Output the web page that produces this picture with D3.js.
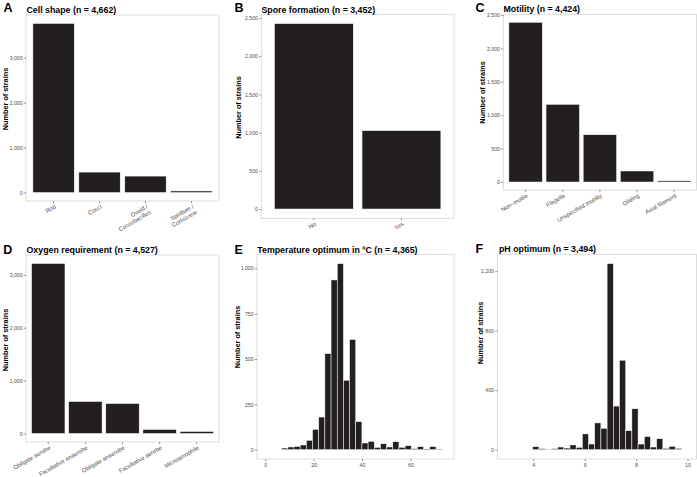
<!DOCTYPE html>
<html><head><meta charset="utf-8">
<script src="https://cdn.jsdelivr.net/npm/d3@7"></script>
<style>
body{margin:0;background:#fff}
svg{display:block}
text{font-family:"Liberation Sans",Arial,Helvetica,sans-serif}
</style>
</head><body>
<svg id="chart" width="697" height="477"></svg>
<script>
// ---------- DATA ----------
const cellShapeCats = ["Rod", "Cocci", "Ovoid /\nCoccobacillus", "Spirillum /\nCorkscrew"];
const cellShapeVals = [3760, 455, 366, 35];
const cellShapeTicks = [0, 1000, 2000, 3000];

const sporeCats = ["No", "Yes"];
const sporeVals = [2428, 1027];
const sporeTicks = [0, 500, 1000, 1500, 2000, 2500];

const motilityCats = ["Non\u2013motile", "Flagella", "Unspecified motility", "Gliding", "Axial filament"];
const motilityVals = [2391, 1163, 708, 165, 18];
const motilityTicks = [0, 500, 1000, 1500, 2000, 2500];

const oxygenCats = ["Obligate aerobe", "Facultative anaerobe", "Obligate anaerobe", "Facultative aerobe", "Microaerophile"];
const oxygenVals = [3214, 605, 567, 76, 38];
const oxygenTicks = [0, 1000, 2000, 3000];

const tempBinStarts = [6.8, 9.35, 11.9, 14.45, 17.0, 19.55, 22.1, 24.65, 27.2, 29.75, 32.3, 34.85, 37.4,
  39.95, 42.5, 45.05, 47.6, 50.15, 52.7, 55.25, 57.8, 60.35, 62.9, 65.45, 68.0, 70.55];
const tempBinWidth = 2.55;
const tempCounts = [9, 15, 18, 26, 52, 112, 180, 530, 936, 1026, 383, 608, 155,
  37, 46, 13, 33, 15, 44, 13, 22, 6, 17, 4, 17, 3];
const tempYTicks = [0, 250, 500, 750, 1000];
const tempXTicks = [0, 20, 40, 60];
const tempXDomain = [-3.4, 78];

const phBinStarts = [3.98, 4.221, 4.462, 4.703, 4.944, 5.185, 5.426, 5.667, 5.908, 6.149, 6.39, 6.631,
  6.872, 7.113, 7.354, 7.595, 7.836, 8.077, 8.318, 8.559, 8.8, 9.041, 9.282, 9.523];
const phBinWidth = 0.241;
const phCounts = [20, 7, 2, 7, 18, 11, 32, 16, 106, 38, 180, 144,
  1250, 293, 601, 128, 275, 38, 88, 18, 74, 9, 23, 9];
const phYTicks = [0, 400, 800, 1200];
const phXTicks = [4, 6, 8, 10];
const phXDomain = [2.6, 10.35];

const panelLetters = ["A", "B", "C", "D", "E", "F"];
const panelTitles = ["Cell shape (n = 4,662)", "Spore formation (n = 3,452)", "Motility (n = 4,424)",
  "Oxygen requirement (n = 4,527)", "Temperature optimum in \u00baC (n = 4,365)", "pH optimum (n = 3,494)"];
const yAxisTitle = "Number of strains";

// ---------- LAYOUT ----------
const layouts = [
  {x0: 26, x1: 219, y0: 15, y1: 201, lx: 3.5, ly: 11.8, tx: 26.5, ty: 12.5, ytx: 5, yty: 99},
  {x0: 261.3, x1: 454, y0: 14.3, y1: 218.3, lx: 234.5, ly: 12.3, tx: 261.5, ty: 12.5, ytx: 238.7, yty: 107.5},
  {x0: 503.3, x1: 696.5, y0: 14.3, y1: 190, lx: 475.5, ly: 12.3, tx: 503.5, ty: 12.3, ytx: 482.3, yty: 92.5},
  {x0: 26, x1: 219, y0: 255, y1: 442, lx: 3.3, ly: 253.8, tx: 26.5, ty: 253, ytx: 5, yty: 340},
  {x0: 257, x1: 454, y0: 254.3, y1: 459, lx: 234.5, ly: 253.8, tx: 257.3, ty: 252.5, ytx: 237.3, yty: 337},
  {x0: 497.3, x1: 696.5, y0: 254.3, y1: 459, lx: 475.5, ly: 252.8, tx: 499, ty: 252, ytx: 480.5, yty: 333}
];

const barFill = "#231f20";
const svg = d3.select("#chart");

function decorate(i) {
  const L = layouts[i];
  svg.append("rect").attr("x", L.x0).attr("y", L.y0)
    .attr("width", L.x1 - L.x0).attr("height", L.y1 - L.y0)
    .attr("fill", "#fff").attr("stroke", "#d4d4d4").attr("stroke-width", 0.8);
  svg.append("text").attr("x", L.lx).attr("y", L.ly).attr("font-size", 12.5)
    .attr("font-weight", "bold").attr("fill", "#000").text(panelLetters[i]);
  svg.append("text").attr("x", L.tx).attr("y", L.ty).attr("font-size", 8.8)
    .attr("font-weight", "bold").attr("fill", "#000").text(panelTitles[i]);
  svg.append("text").attr("transform", `translate(${L.ytx},${L.yty}) rotate(-90)`)
    .attr("dy", "0.35em").attr("text-anchor", "middle").attr("font-size", 7.3)
    .attr("font-weight", "bold").attr("fill", "#000").text(yAxisTitle);
}

function yAxis(i, y, ticks) {
  const L = layouts[i];
  const g = svg.append("g").attr("transform", `translate(${L.x0},0)`)
    .call(d3.axisLeft(y).tickValues(ticks).tickFormat(d3.format(",")).tickSize(2.2).tickPadding(1.2));
  g.select(".domain").remove();
  g.selectAll(".tick line").attr("stroke", "#333").attr("stroke-width", 0.5);
  g.selectAll(".tick text").attr("font-size", 5.2).attr("fill", "#4d4d4d")
    .attr("font-family", "Liberation Sans, Arial, sans-serif");
}

function barPanel(i, cats, vals, ticks) {
  const L = layouts[i];
  decorate(i);
  const M = d3.max(vals);
  const y = d3.scaleLinear().domain([-0.05 * M, 1.05 * M]).range([L.y1, L.y0]);
  const x = d3.scaleBand().domain(cats).range([L.x0, L.x1]).paddingInner(0.1).paddingOuter(0.15);
  yAxis(i, y, ticks);
  svg.append("g").selectAll("rect").data(cats).join("rect")
    .attr("x", d => x(d)).attr("width", x.bandwidth())
    .attr("y", (d, k) => y(vals[k])).attr("height", (d, k) => y(0) - y(vals[k]))
    .attr("fill", barFill).attr("stroke", "#fff").attr("stroke-width", 0.5);
  const g = svg.append("g");
  cats.forEach(c => {
    const cx = x(c) + x.bandwidth() / 2;
    g.append("line").attr("x1", cx).attr("x2", cx).attr("y1", L.y1).attr("y2", L.y1 + 2.2)
      .attr("stroke", "#333").attr("stroke-width", 0.5);
    const t = g.append("text").attr("transform", `translate(${cx + 0.5},${L.y1 + 3}) rotate(-30)`)
      .attr("text-anchor", "end").attr("font-size", 5.9).attr("fill", "#4d4d4d");
    c.split("\n").forEach((ln, k) => {
      t.append("tspan").attr("x", 0).attr("dy", k === 0 ? "0.75em" : "1.1em").text(ln);
    });
  });
}

function histPanel(i, starts, width, counts, yTicks, xTicks, xDomain) {
  const L = layouts[i];
  decorate(i);
  const M = d3.max(counts);
  const y = d3.scaleLinear().domain([-0.05 * M, 1.05 * M]).range([L.y1, L.y0]);
  const x = d3.scaleLinear().domain(xDomain).range([L.x0, L.x1]);
  yAxis(i, y, yTicks);
  svg.append("g").selectAll("rect").data(counts).join("rect")
    .attr("x", (d, k) => x(starts[k])).attr("width", (d, k) => x(starts[k] + width) - x(starts[k]))
    .attr("y", d => y(d)).attr("height", d => y(0) - y(d))
    .attr("fill", barFill).attr("stroke", "#fff").attr("stroke-width", 0.5);
  const g = svg.append("g").attr("transform", `translate(0,${L.y1})`)
    .call(d3.axisBottom(x).tickValues(xTicks).tickFormat(d3.format("d")).tickSize(2.2).tickPadding(1.5));
  g.select(".domain").remove();
  g.selectAll(".tick line").attr("stroke", "#333").attr("stroke-width", 0.5);
  g.selectAll(".tick text").attr("font-size", 5.4).attr("fill", "#4d4d4d")
    .attr("font-family", "Liberation Sans, Arial, sans-serif");
}

barPanel(0, cellShapeCats, cellShapeVals, cellShapeTicks);
barPanel(1, sporeCats, sporeVals, sporeTicks);
barPanel(2, motilityCats, motilityVals, motilityTicks);
barPanel(3, oxygenCats, oxygenVals, oxygenTicks);
histPanel(4, tempBinStarts, tempBinWidth, tempCounts, tempYTicks, tempXTicks, tempXDomain);
histPanel(5, phBinStarts, phBinWidth, phCounts, phYTicks, phXTicks, phXDomain);
</script>
</body></html>
